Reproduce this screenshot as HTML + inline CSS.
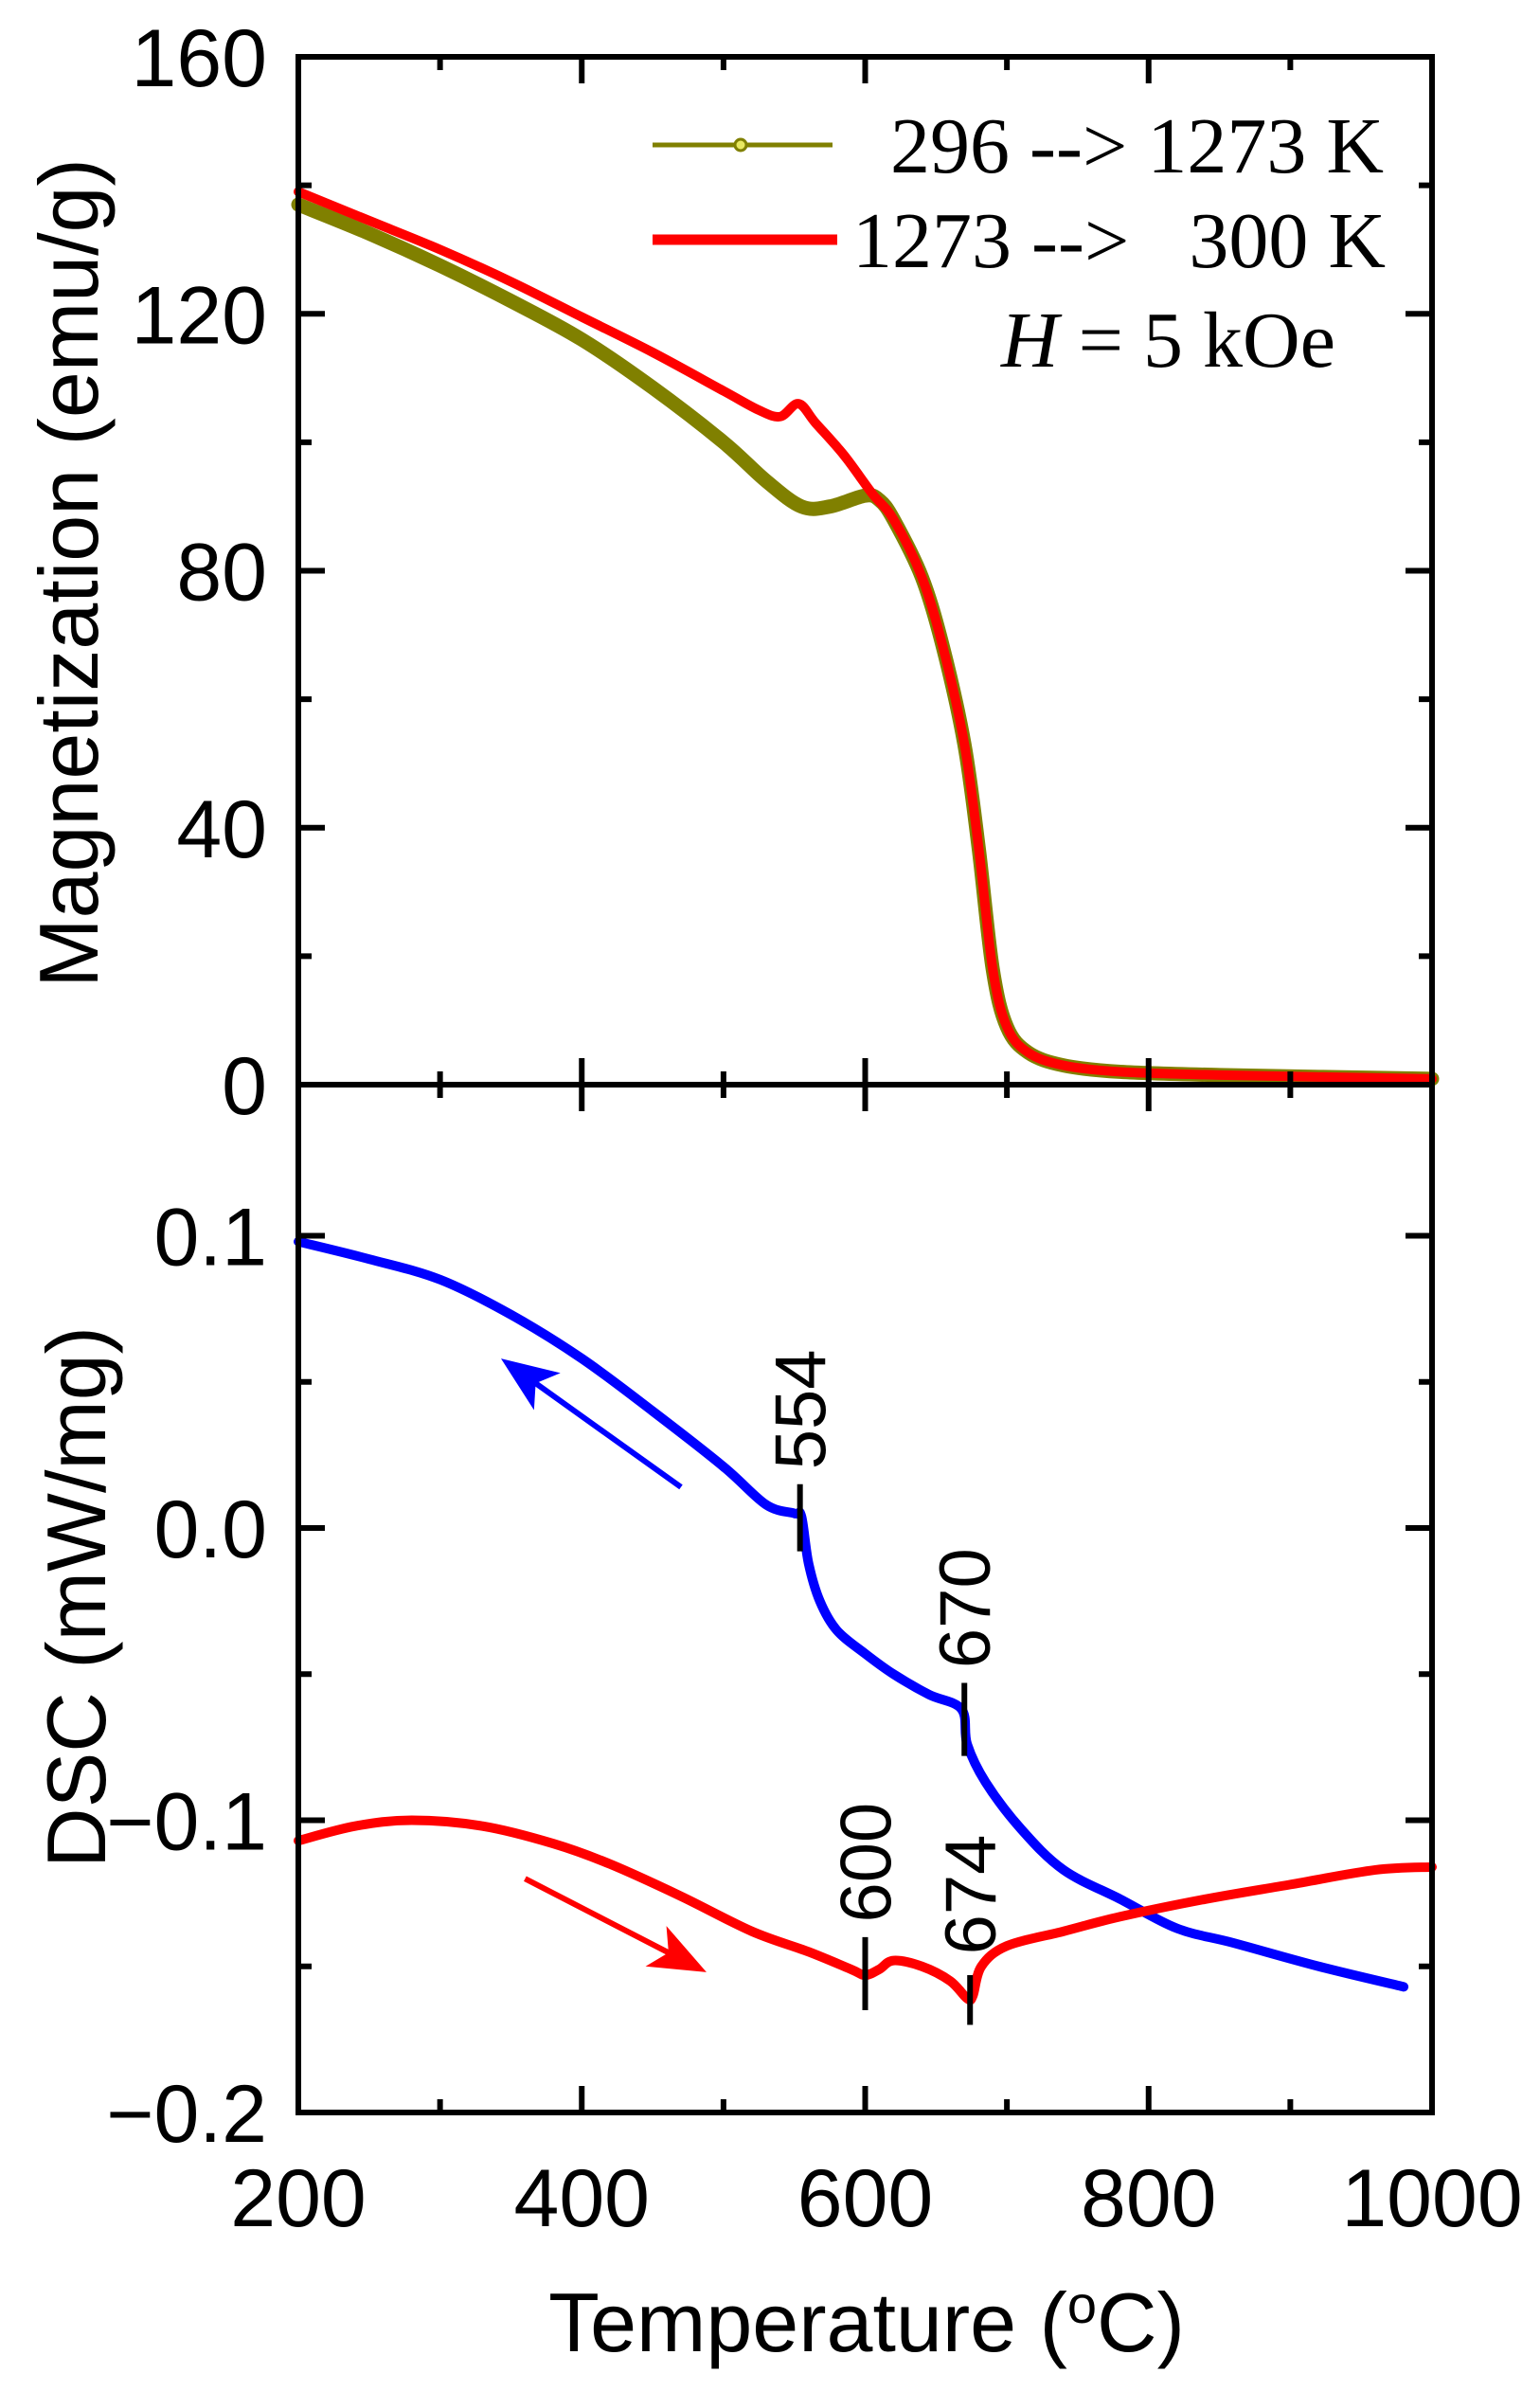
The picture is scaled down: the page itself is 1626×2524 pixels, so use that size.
<!DOCTYPE html>
<html><head><meta charset="utf-8"><style>
html,body{margin:0;padding:0;background:#fff;}
svg{display:block;}
text{font-family:"Liberation Sans",Arial,sans-serif;}
.serif{font-family:"Liberation Serif","Times New Roman",serif;}
</style></head><body>
<svg id="s" width="1626" height="2524" viewBox="0 0 1626 2524" xmlns="http://www.w3.org/2000/svg">
<rect width="1626" height="2524" fill="#fff"/>
<g id="curves"></g>
<g id="axes" stroke="#000" stroke-width="6" fill="none"></g>
<g id="labels" font-size="86" fill="#000"></g>
<line x1="689" y1="153" x2="879" y2="153" stroke="#808000" stroke-width="5"/>
<circle cx="782" cy="153" r="6" fill="#e8e860" stroke="#808000" stroke-width="3"/>
<text class="serif" x="940" y="182" font-size="84" style="white-space:pre">296 --&gt; 1273 K</text>
<line x1="689" y1="253" x2="884" y2="253" stroke="#ff0000" stroke-width="11"/>
<text class="serif" x="900" y="282" font-size="84" style="white-space:pre">1273 --&gt;   300 K</text>
<text class="serif" x="1057" y="387" font-size="84"><tspan font-style="italic">H</tspan> = 5 kOe</text>
<text x="73" y="605" font-size="88" text-anchor="middle" transform="rotate(-90 73 605) translate(0 30)">Magnetization (emu/g)</text>
<text x="81" y="1686" font-size="88" text-anchor="middle" transform="rotate(-90 81 1686) translate(0 30)">DSC (mW/mg)</text>
<text x="915" y="2482" font-size="88" text-anchor="middle">Temperature (<tspan font-size="56" dy="-30">o</tspan><tspan dy="30">C)</tspan></text>
</svg>
<script>
const L=315,R=1512,T=60,M=1145,B=2230;
const X=t=>L+(t-200)*(R-L)/800;
const Y1=v=>M-v*(M-T)/160;
const Y2=v=>1613-v*3085;
const NS="http://www.w3.org/2000/svg";
function el(p,tag,a,txt){const e=document.createElementNS(NS,tag);for(const k in a)e.setAttribute(k,a[k]);if(txt!=null)e.textContent=txt;document.getElementById(p).appendChild(e);return e;}
function smooth(pts){let d="M"+pts[0][0]+","+pts[0][1];for(let i=1;i<pts.length;i++){const p0=pts[i-2]||pts[i-1],p1=pts[i-1],p2=pts[i],p3=pts[i+1]||p2;const c1=[p1[0]+(p2[0]-p0[0])/6,p1[1]+(p2[1]-p0[1])/6],c2=[p2[0]-(p3[0]-p1[0])/6,p2[1]-(p3[1]-p1[1])/6];d+=` C${c1[0]},${c1[1]} ${c2[0]},${c2[1]} ${p2[0]},${p2[1]}`;}return d;}
function curve(data,fy,col,w){el("curves","path",{d:smooth(data.map(p=>[X(p[0]),fy(p[1])])),stroke:col,"stroke-width":w,fill:"none","stroke-linejoin":"round","stroke-linecap":"round"});}
const tail=[[620,88],[640,79],[655,68],[670,53],[680,37],[690,18],[700,9],[715,5],[740,3],[780,2],[850,1.5],[1000,0.9]];
curve([[200,137],[250,132.5],[300,127.5],[350,122],[400,116],[450,108.5],[500,100],[530,94],[555,90],[575,90],[600,91.7],[610,91]].concat(tail),Y1,"#808000",15);
curve([[200,139],[250,134.5],[300,130],[350,125],[400,119.5],[450,114],[500,108],[525,105],[540,104],[553,106],[565,103],[585,98],[605,92],[620,88]].concat(tail.slice(1)),Y1,"#ff0000",10);
curve([[200,0.098],[250,0.092],[300,0.085],[350,0.073],[400,0.058],[450,0.04],[500,0.021],[530,0.008],[550,0.005],[555,0.004],[560,-0.012],[568,-0.025],[580,-0.035],[600,-0.043],[620,-0.05],[645,-0.057],[668,-0.062],[672,-0.074],[685,-0.087],[710,-0.103],[740,-0.117],[780,-0.127],[820,-0.137],[860,-0.142],[920,-0.150],[980,-0.157]],Y2,"#0000ff",10);
curve([[200,-0.107],[240,-0.102],[280,-0.100],[330,-0.102],[380,-0.108],[420,-0.115],[470,-0.126],[520,-0.138],[560,-0.145],[590,-0.151],[600,-0.153],[610,-0.151],[620,-0.148],[640,-0.150],[660,-0.155],[672,-0.161],[676,-0.160],[682,-0.150],[700,-0.143],[740,-0.138],[780,-0.133],[840,-0.127],[900,-0.122],[960,-0.117],[1000,-0.116]],Y2,"#ff0000",10);
[[554,0.015,-0.008,"554",0.02],[670,-0.053,-0.078,"670",-0.048],[600,-0.140,-0.165,"600",-0.135],[674,-0.153,-0.170,"674",-0.146]].forEach(m=>{
el("curves","line",{x1:X(m[0]),y1:Y2(m[1]),x2:X(m[0]),y2:Y2(m[2]),stroke:"#000","stroke-width":6});
const x=X(m[0])+27,y=Y2(m[4]);el("labels","text",{x:x,y:y,transform:`rotate(-90 ${x} ${y})`,"font-size":76},m[3]);});
function arrow(x1,y1,x2,y2,col){const a=[X(x1),Y2(y1)],b=[X(x2),Y2(y2)];const dx=b[0]-a[0],dy=b[1]-a[1],l=Math.hypot(dx,dy),ux=dx/l,uy=dy/l;const hl=60,hw=24;const bx=b[0]-ux*hl,by=b[1]-uy*hl;
el("curves","line",{x1:a[0],y1:a[1],x2:bx+ux*15,y2:by+uy*15,stroke:col,"stroke-width":6});
el("curves","polygon",{points:`${b[0]},${b[1]} ${bx-uy*hw},${by+ux*hw} ${bx+ux*15},${by+uy*15} ${bx+uy*hw},${by-ux*hw}`,fill:col});}
arrow(470,0.014,343,0.058,"#0000ff");
arrow(360,-0.120,488,-0.152,"#ff0000");
el("axes","rect",{x:L,y:T,width:R-L,height:B-T});
el("axes","line",{x1:L,y1:M,x2:R,y2:M});
for(let t=200;t<=1000;t+=100){const maj=t%200==0,len=maj?28:14,x=X(t);
 if(t>200&&t<1000){el("axes","line",{x1:x,y1:T,x2:x,y2:T+len});el("axes","line",{x1:x,y1:M-len,x2:x,y2:M+len});el("axes","line",{x1:x,y1:B,x2:x,y2:B-len});}
 if(maj)el("labels","text",{x:x,y:2350,"text-anchor":"middle"},String(t));}
for(let v=0;v<=160;v+=20){const maj=v%40==0,len=maj?28:14,y=Y1(v);
 if(v>0&&v<160){el("axes","line",{x1:L,y1:y,x2:L+len,y2:y});el("axes","line",{x1:R,y1:y,x2:R-len,y2:y});}
 if(maj)el("labels","text",{x:282,y:y+31,"text-anchor":"end"},String(v));}
[0.1,0.05,0,-0.05,-0.1,-0.15,-0.2].forEach(v=>{const maj=Math.abs(v*20)%2<0.01,len=maj?28:14,y=Y2(v);
 if(v>-0.2){el("axes","line",{x1:L,y1:y,x2:L+len,y2:y});el("axes","line",{x1:R,y1:y,x2:R-len,y2:y});}
 if(maj)el("labels","text",{x:282,y:y+31,"text-anchor":"end"},(v<0?"\u2212":"")+Math.abs(v).toFixed(1));});
</script>
</body></html>
